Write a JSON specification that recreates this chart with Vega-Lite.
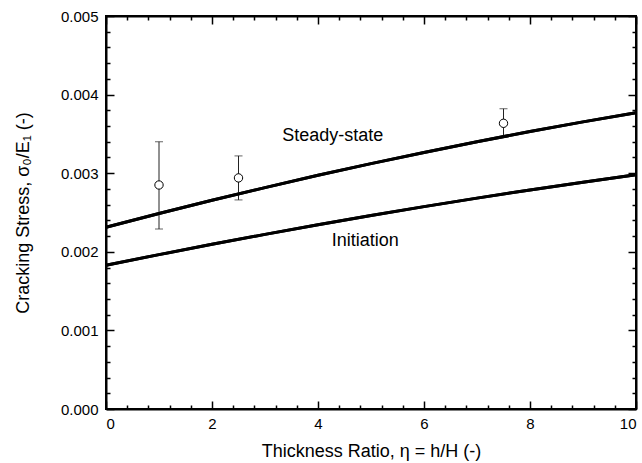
{
  "$schema": "https://vega.github.io/schema/vega-lite/v6.json",
  "width": 530,
  "height": 393,
  "padding": {"left": 14, "top": 9, "right": 5, "bottom": 5},
  "background": "white",
  "config": {
    "view": {"stroke": "black", "strokeWidth": 2},
    "font": "Liberation Sans",
    "axis": {
      "labelFont": "Liberation Sans",
      "titleFont": "Liberation Sans",
      "labelColor": "black",
      "titleColor": "black",
      "titleFontWeight": "normal",
      "labelFontSize": 15,
      "titleFontSize": 18,
      "domain": false,
      "tickColor": "black",
      "tickWidth": 1.5,
      "grid": false
    }
  },
  "datasets": {
    "curves": [
      {"x": 0, "y": 0.002312, "series": "Steady-state"},
      {"x": 1, "y": 0.002487, "series": "Steady-state"},
      {"x": 2, "y": 0.002655, "series": "Steady-state"},
      {"x": 3, "y": 0.002817, "series": "Steady-state"},
      {"x": 4, "y": 0.002973, "series": "Steady-state"},
      {"x": 5, "y": 0.003122, "series": "Steady-state"},
      {"x": 6, "y": 0.003264, "series": "Steady-state"},
      {"x": 7, "y": 0.003400, "series": "Steady-state"},
      {"x": 8, "y": 0.003530, "series": "Steady-state"},
      {"x": 9, "y": 0.003653, "series": "Steady-state"},
      {"x": 10, "y": 0.003770, "series": "Steady-state"},
      {"x": 0, "y": 0.001828, "series": "Initiation"},
      {"x": 1, "y": 0.001964, "series": "Initiation"},
      {"x": 2, "y": 0.002096, "series": "Initiation"},
      {"x": 3, "y": 0.002222, "series": "Initiation"},
      {"x": 4, "y": 0.002345, "series": "Initiation"},
      {"x": 5, "y": 0.002462, "series": "Initiation"},
      {"x": 6, "y": 0.002575, "series": "Initiation"},
      {"x": 7, "y": 0.002683, "series": "Initiation"},
      {"x": 8, "y": 0.002787, "series": "Initiation"},
      {"x": 9, "y": 0.002886, "series": "Initiation"},
      {"x": 10, "y": 0.002980, "series": "Initiation"}
    ],
    "points": [
      {"x": 1, "y": 0.00285, "lo": 0.00229, "hi": 0.00340},
      {"x": 2.5, "y": 0.00294, "lo": 0.00266, "hi": 0.00322},
      {"x": 7.5, "y": 0.003635, "lo": 0.00346, "hi": 0.00382}
    ],
    "labels": [
      {"x": 4.28, "y": 0.00347, "text": "Steady-state"},
      {"x": 4.89, "y": 0.00214, "text": "Initiation"}
    ]
  },
  "resolve": {
    "scale": {"x": "independent", "y": "independent"},
    "axis": {"x": "independent", "y": "independent"}
  },
  "layer": [
    {
      "data": {"name": "curves"},
      "mark": {"type": "line", "color": "black", "strokeWidth": 3},
      "encoding": {
        "x": {"field": "x", "type": "quantitative",
          "scale": {"domain": [0, 10], "nice": false, "zero": false},
          "axis": {"orient": "bottom", "values": [0, 2, 4, 6, 8, 10], "format": "d", "domain": true, "domainWidth": 2, "domainColor": "black", "tickSize": -8, "labelPadding": 15, "title": "Thickness Ratio, η = h/H (-)", "titlePadding": 11}},
        "y": {"field": "y", "type": "quantitative",
          "scale": {"domain": [0, 0.005], "nice": false, "zero": false},
          "axis": {"orient": "left", "values": [0, 0.001, 0.002, 0.003, 0.004, 0.005], "format": ".3f", "domain": true, "domainWidth": 2, "domainColor": "black", "tickSize": -8, "labelPadding": 16, "title": "Cracking Stress, σ₀/E₁ (-)", "titlePadding": 28}},
        "detail": {"field": "series", "type": "nominal"}
      }
    },
    {
      "data": {"name": "points"},
      "mark": {"type": "rule", "color": "#222222", "strokeWidth": 1},
      "encoding": {
        "x": {"field": "x", "type": "quantitative",
          "scale": {"domain": [0, 10], "nice": false, "zero": false},
          "axis": {"orient": "bottom", "values": [0.4, 0.8, 1.2, 1.6, 2.4, 2.8, 3.2, 3.6, 4.4, 4.8, 5.2, 5.6, 6.4, 6.8, 7.2, 7.6, 8.4, 8.8, 9.2, 9.6], "labels": false, "tickSize": -4, "title": null}},
        "y": {"field": "lo", "type": "quantitative",
          "scale": {"domain": [0, 0.005], "nice": false, "zero": false}, "axis": null},
        "y2": {"field": "hi"}
      }
    },
    {
      "data": {"name": "points"},
      "mark": {"type": "tick", "orient": "horizontal", "color": "#222222", "size": 8, "thickness": 1},
      "encoding": {
        "x": {"field": "x", "type": "quantitative",
          "scale": {"domain": [0, 10], "nice": false, "zero": false}, "axis": null},
        "y": {"field": "hi", "type": "quantitative",
          "scale": {"domain": [0, 0.005], "nice": false, "zero": false},
          "axis": {"orient": "left", "values": [0.0002, 0.0004, 0.0006, 0.0008, 0.0012, 0.0014, 0.0016, 0.0018, 0.0022, 0.0024, 0.0026, 0.0028, 0.0032, 0.0034, 0.0036, 0.0038, 0.0042, 0.0044, 0.0046, 0.0048], "labels": false, "tickSize": -4, "title": null}}
      }
    },
    {
      "data": {"name": "points"},
      "mark": {"type": "tick", "orient": "horizontal", "color": "#222222", "size": 8, "thickness": 1},
      "encoding": {
        "x": {"field": "x", "type": "quantitative",
          "scale": {"domain": [0, 10], "nice": false, "zero": false},
          "axis": {"orient": "top", "values": [0, 2, 4, 6, 8, 10], "labels": false, "domain": true, "domainWidth": 2, "domainColor": "black", "tickSize": -8, "title": null}},
        "y": {"field": "lo", "type": "quantitative",
          "scale": {"domain": [0, 0.005], "nice": false, "zero": false}, "axis": null}
      }
    },
    {
      "data": {"name": "curves"},
      "mark": {"type": "line", "color": "black", "strokeWidth": 3},
      "encoding": {
        "x": {"field": "x", "type": "quantitative",
          "scale": {"domain": [0, 10], "nice": false, "zero": false}, "axis": null},
        "y": {"field": "y", "type": "quantitative",
          "scale": {"domain": [0, 0.005], "nice": false, "zero": false},
          "axis": {"orient": "right", "values": [0, 0.001, 0.002, 0.003, 0.004, 0.005], "labels": false, "domain": true, "domainWidth": 2, "domainColor": "black", "tickSize": -8, "title": null}},
        "detail": {"field": "series", "type": "nominal"}
      }
    },
    {
      "data": {"name": "labels"},
      "mark": {"type": "text", "font": "Liberation Sans", "fontSize": 18, "color": "black", "align": "center", "baseline": "middle"},
      "encoding": {
        "x": {"field": "x", "type": "quantitative", "scale": {"domain": [0, 10], "nice": false, "zero": false},
          "axis": {"orient": "top", "values": [0.4, 0.8, 1.2, 1.6, 2.4, 2.8, 3.2, 3.6, 4.4, 4.8, 5.2, 5.6, 6.4, 6.8, 7.2, 7.6, 8.4, 8.8, 9.2, 9.6], "labels": false, "tickSize": -4, "title": null}},
        "y": {"field": "y", "type": "quantitative", "scale": {"domain": [0, 0.005], "nice": false, "zero": false},
          "axis": {"orient": "right", "values": [0.0002, 0.0004, 0.0006, 0.0008, 0.0012, 0.0014, 0.0016, 0.0018, 0.0022, 0.0024, 0.0026, 0.0028, 0.0032, 0.0034, 0.0036, 0.0038, 0.0042, 0.0044, 0.0046, 0.0048], "labels": false, "tickSize": -4, "title": null}},
        "text": {"field": "text"}
      }
    },
    {
      "data": {"name": "points"},
      "mark": {"type": "point", "shape": "circle", "filled": true, "fill": "white", "stroke": "black", "strokeWidth": 1, "size": 70, "opacity": 1},
      "encoding": {
        "x": {"field": "x", "type": "quantitative", "scale": {"domain": [0, 10], "nice": false, "zero": false}, "axis": null},
        "y": {"field": "y", "type": "quantitative", "scale": {"domain": [0, 0.005], "nice": false, "zero": false}, "axis": null}
      }
    }
  ]
}
